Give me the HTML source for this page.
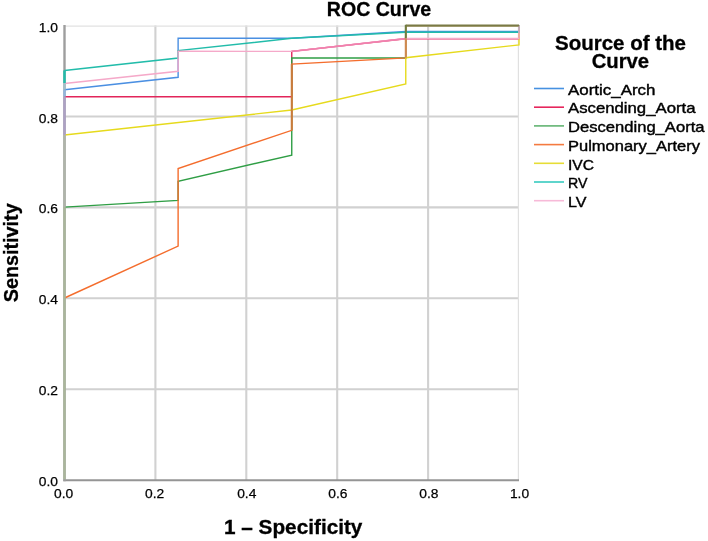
<!DOCTYPE html>
<html><head><meta charset="utf-8"><style>
html,body{margin:0;padding:0;background:#fff;width:708px;height:541px;overflow:hidden}
svg{display:block;will-change:transform}
</style></head><body>
<svg width="708" height="541" viewBox="0 0 708 541">
<rect width="708" height="541" fill="#fff"/>
<g stroke="#d1d1d1" stroke-width="2.1" fill="none"><line x1="155.40" y1="25.60" x2="155.40" y2="480.10"/><line x1="246.30" y1="25.60" x2="246.30" y2="480.10"/><line x1="337.20" y1="25.60" x2="337.20" y2="480.10"/><line x1="428.10" y1="25.60" x2="428.10" y2="480.10"/><line x1="64.50" y1="389.20" x2="519.00" y2="389.20"/><line x1="64.50" y1="298.30" x2="519.00" y2="298.30"/><line x1="64.50" y1="207.40" x2="519.00" y2="207.40"/><line x1="64.50" y1="116.50" x2="519.00" y2="116.50"/></g>
<line x1="64.50" y1="26.1" x2="519" y2="26.1" stroke="#e2e2e2" stroke-width="1.2"/>
<line x1="518.4" y1="26.1" x2="518.4" y2="480.10" stroke="#e0e0e0" stroke-width="1.2"/>
<line x1="63.30" y1="480.3" x2="519.00" y2="480.3" stroke="#959595" stroke-width="2.1"/>
<line x1="64.50" y1="25.00" x2="64.50" y2="481.3" stroke="#9e9e9e" stroke-width="2.4"/>
<polyline points="64.50,89.80 178.12,77.30 178.12,38.20 291.75,38.20 405.77,31.50 519.00,31.50 519.00,25.60" fill="none" stroke="#4a8fe2" stroke-width="1.4" stroke-opacity="1" stroke-linejoin="miter" stroke-linecap="butt"/>
<polyline points="64.50,96.70 291.75,96.70 291.75,51.40 405.77,38.70 519.00,38.70 519.00,25.60" fill="none" stroke="#e2255a" stroke-width="1.4" stroke-opacity="1" stroke-linejoin="miter" stroke-linecap="butt"/>
<polyline points="64.50,207.10 178.12,200.40 178.12,181.20 291.75,155.10 291.75,58.00 405.77,58.00 405.77,25.60 519.00,25.60" fill="none" stroke="#2f9e45" stroke-width="1.4" stroke-opacity="1" stroke-linejoin="miter" stroke-linecap="butt"/>
<polyline points="64.50,298.00 178.12,246.10 178.12,168.60 291.75,130.30 291.75,64.10 405.77,57.90 405.77,25.60 519.00,25.60" fill="none" stroke="#f46d2d" stroke-width="1.4" stroke-opacity="1" stroke-linejoin="miter" stroke-linecap="butt"/>
<polyline points="64.50,135.00 291.75,110.00 405.77,84.00 405.77,57.70 519.00,44.90 519.00,25.60" fill="none" stroke="#e6da1c" stroke-width="1.4" stroke-opacity="1" stroke-linejoin="miter" stroke-linecap="butt"/>
<polyline points="64.50,70.40 178.12,58.00 178.12,50.60 291.75,38.30 405.77,32.20 519.00,32.20 519.00,25.60" fill="none" stroke="#22bcaa" stroke-width="1.5" stroke-opacity="1" stroke-linejoin="miter" stroke-linecap="butt"/>
<polyline points="64.50,83.50 178.12,71.30 178.12,51.30 291.75,51.40 405.77,38.50 519.00,38.50 519.00,25.60" fill="none" stroke="#f5a9c9" stroke-width="1.4" stroke-opacity="1" stroke-linejoin="miter" stroke-linecap="butt"/>
<line x1="64.50" y1="70.40" x2="64.50" y2="83.00" stroke="#22bcaa" stroke-width="2.5"/>
<line x1="64.50" y1="83.00" x2="64.50" y2="89.60" stroke="#a5bfc8" stroke-width="2.5"/>
<line x1="64.50" y1="89.60" x2="64.50" y2="96.60" stroke="#92b6dc" stroke-width="2.5"/>
<line x1="64.50" y1="96.60" x2="64.50" y2="135.00" stroke="#ada1c4" stroke-width="2.5"/>
<line x1="64.50" y1="135.00" x2="64.50" y2="207.10" stroke="#afb4aa" stroke-width="2.5"/>
<line x1="64.50" y1="207.10" x2="64.50" y2="479.30" stroke="#aab69b" stroke-width="2.5"/>
<line x1="291.75" y1="51.4" x2="405.77" y2="38.6" stroke="#f080ae" stroke-width="1.5"/>
<line x1="405.77" y1="25.60" x2="519.00" y2="25.60" stroke="#7a7a45" stroke-width="2"/>
<line x1="405.77" y1="24.80" x2="405.77" y2="38.5" stroke="#6f7d40" stroke-width="2"/>
<line x1="405.77" y1="38.5" x2="405.77" y2="57.8" stroke="#cf8a50" stroke-width="2"/>
<line x1="291.75" y1="64.1" x2="291.75" y2="130.3" stroke="#c97c3c" stroke-width="2"/>
<text x="58.0" y="486.10" font-family="Liberation Sans, sans-serif" font-size="13.7" font-weight="normal" text-anchor="end" textLength="19.2" lengthAdjust="spacingAndGlyphs" fill="#000" stroke="#000" stroke-width="0.25">0.0</text>
<text x="58.0" y="395.20" font-family="Liberation Sans, sans-serif" font-size="13.7" font-weight="normal" text-anchor="end" textLength="19.2" lengthAdjust="spacingAndGlyphs" fill="#000" stroke="#000" stroke-width="0.25">0.2</text>
<text x="58.0" y="304.30" font-family="Liberation Sans, sans-serif" font-size="13.7" font-weight="normal" text-anchor="end" textLength="19.2" lengthAdjust="spacingAndGlyphs" fill="#000" stroke="#000" stroke-width="0.25">0.4</text>
<text x="58.0" y="213.40" font-family="Liberation Sans, sans-serif" font-size="13.7" font-weight="normal" text-anchor="end" textLength="19.2" lengthAdjust="spacingAndGlyphs" fill="#000" stroke="#000" stroke-width="0.25">0.6</text>
<text x="58.0" y="122.50" font-family="Liberation Sans, sans-serif" font-size="13.7" font-weight="normal" text-anchor="end" textLength="19.2" lengthAdjust="spacingAndGlyphs" fill="#000" stroke="#000" stroke-width="0.25">0.8</text>
<text x="58.0" y="31.60" font-family="Liberation Sans, sans-serif" font-size="13.7" font-weight="normal" text-anchor="end" textLength="19.2" lengthAdjust="spacingAndGlyphs" fill="#000" stroke="#000" stroke-width="0.25">1.0</text>
<text x="63.65" y="498.2" font-family="Liberation Sans, sans-serif" font-size="13.7" font-weight="normal" text-anchor="middle" textLength="19.2" lengthAdjust="spacingAndGlyphs" fill="#000" stroke="#000" stroke-width="0.25">0.0</text>
<text x="154.60" y="498.2" font-family="Liberation Sans, sans-serif" font-size="13.7" font-weight="normal" text-anchor="middle" textLength="19.2" lengthAdjust="spacingAndGlyphs" fill="#000" stroke="#000" stroke-width="0.25">0.2</text>
<text x="246.80" y="498.2" font-family="Liberation Sans, sans-serif" font-size="13.7" font-weight="normal" text-anchor="middle" textLength="19.2" lengthAdjust="spacingAndGlyphs" fill="#000" stroke="#000" stroke-width="0.25">0.4</text>
<text x="337.90" y="498.2" font-family="Liberation Sans, sans-serif" font-size="13.7" font-weight="normal" text-anchor="middle" textLength="19.2" lengthAdjust="spacingAndGlyphs" fill="#000" stroke="#000" stroke-width="0.25">0.6</text>
<text x="428.90" y="498.2" font-family="Liberation Sans, sans-serif" font-size="13.7" font-weight="normal" text-anchor="middle" textLength="19.2" lengthAdjust="spacingAndGlyphs" fill="#000" stroke="#000" stroke-width="0.25">0.8</text>
<text x="519.50" y="498.2" font-family="Liberation Sans, sans-serif" font-size="13.7" font-weight="normal" text-anchor="middle" textLength="19.2" lengthAdjust="spacingAndGlyphs" fill="#000" stroke="#000" stroke-width="0.25">1.0</text>
<text x="379" y="16.3" font-family="Liberation Sans, sans-serif" font-size="19.5" font-weight="bold" text-anchor="middle" textLength="104.5" lengthAdjust="spacingAndGlyphs" fill="#000" stroke="#000" stroke-width="0.3">ROC Curve</text>
<text x="293.2" y="533.5" font-family="Liberation Sans, sans-serif" font-size="19.5" font-weight="bold" text-anchor="middle" textLength="138.5" lengthAdjust="spacingAndGlyphs" fill="#000" stroke="#000" stroke-width="0.3">1 – Specificity</text>
<g transform="translate(18.2,252.8) rotate(-90)"><text x="0" y="0" font-family="Liberation Sans, sans-serif" font-size="19.5" font-weight="bold" text-anchor="middle" textLength="99" lengthAdjust="spacingAndGlyphs" fill="#000" stroke="#000" stroke-width="0.3">Sensitivity</text></g>
<text x="620.5" y="49.5" font-family="Liberation Sans, sans-serif" font-size="19.5" font-weight="bold" text-anchor="middle" textLength="131" lengthAdjust="spacingAndGlyphs" fill="#000" stroke="#000" stroke-width="0.3">Source of the</text>
<text x="620.4" y="68.3" font-family="Liberation Sans, sans-serif" font-size="19.5" font-weight="bold" text-anchor="middle" textLength="57.5" lengthAdjust="spacingAndGlyphs" fill="#000" stroke="#000" stroke-width="0.3">Curve</text>
<line x1="534" y1="88.50" x2="564" y2="88.50" stroke="#4691e1" stroke-width="1.6"/>
<text x="568.0" y="94.70" font-family="Liberation Sans, sans-serif" font-size="14.8" font-weight="normal" text-anchor="start" textLength="87.5" lengthAdjust="spacingAndGlyphs" fill="#000" stroke="#000" stroke-width="0.4">Aortic_Arch</text>
<line x1="534" y1="107.20" x2="564" y2="107.20" stroke="#e6265c" stroke-width="1.6"/>
<text x="568.0" y="113.40" font-family="Liberation Sans, sans-serif" font-size="14.8" font-weight="normal" text-anchor="start" textLength="127.5" lengthAdjust="spacingAndGlyphs" fill="#000" stroke="#000" stroke-width="0.4">Ascending_Aorta</text>
<line x1="534" y1="125.90" x2="564" y2="125.90" stroke="#62b472" stroke-width="1.6"/>
<text x="568.0" y="132.10" font-family="Liberation Sans, sans-serif" font-size="14.8" font-weight="normal" text-anchor="start" textLength="136.5" lengthAdjust="spacingAndGlyphs" fill="#000" stroke="#000" stroke-width="0.4">Descending_Aorta</text>
<line x1="534" y1="144.60" x2="564" y2="144.60" stroke="#f47a40" stroke-width="1.6"/>
<text x="568.0" y="150.80" font-family="Liberation Sans, sans-serif" font-size="14.8" font-weight="normal" text-anchor="start" textLength="132" lengthAdjust="spacingAndGlyphs" fill="#000" stroke="#000" stroke-width="0.4">Pulmonary_Artery</text>
<line x1="534" y1="163.30" x2="564" y2="163.30" stroke="#e6dd36" stroke-width="1.6"/>
<text x="568.0" y="169.50" font-family="Liberation Sans, sans-serif" font-size="14.8" font-weight="normal" text-anchor="start" textLength="26" lengthAdjust="spacingAndGlyphs" fill="#000" stroke="#000" stroke-width="0.4">IVC</text>
<line x1="534" y1="182.00" x2="564" y2="182.00" stroke="#38cbc0" stroke-width="1.6"/>
<text x="568.0" y="188.20" font-family="Liberation Sans, sans-serif" font-size="14.8" font-weight="normal" text-anchor="start" textLength="19.5" lengthAdjust="spacingAndGlyphs" fill="#000" stroke="#000" stroke-width="0.4">RV</text>
<line x1="534" y1="200.70" x2="564" y2="200.70" stroke="#f7bad8" stroke-width="1.6"/>
<text x="568.0" y="206.90" font-family="Liberation Sans, sans-serif" font-size="14.8" font-weight="normal" text-anchor="start" textLength="18.5" lengthAdjust="spacingAndGlyphs" fill="#000" stroke="#000" stroke-width="0.4">LV</text>
</svg>
</body></html>
